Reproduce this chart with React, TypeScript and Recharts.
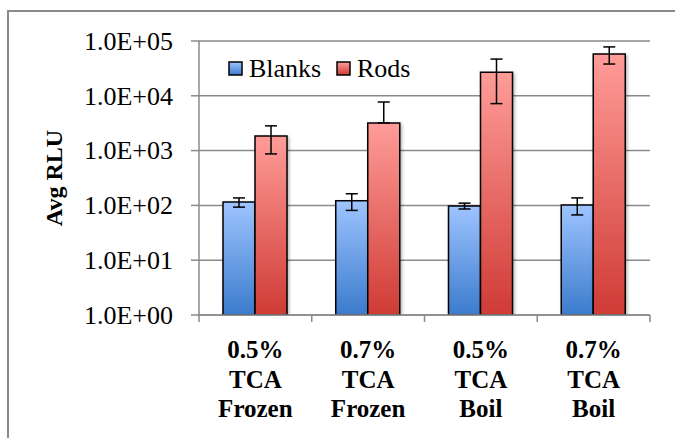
import React from 'react';
import { BarChart, Bar, XAxis, YAxis, CartesianGrid, ErrorBar } from 'recharts';

// ---- data ----
const categoryLines: string[][] = [
  ['0.5%', 'TCA', 'Frozen'],
  ['0.7%', 'TCA', 'Frozen'],
  ['0.5%', 'TCA', 'Boil'],
  ['0.7%', 'TCA', 'Boil'],
];
const seriesNames = ['Blanks', 'Rods'];
const blanksValues = [115, 122, 98, 102];
const blanksErrors = [22, 41, 12, 35];
const rodsValues = [1850, 3200, 27000, 58000];
const rodsErrors = [980, 4500, 19800, 20000];
const yTickValues = [1, 10, 100, 1000, 10000, 100000];
const yTickLabels = ['1.0E+00', '1.0E+01', '1.0E+02', '1.0E+03', '1.0E+04', '1.0E+05'];
const yAxisTitle = 'Avg RLU';

// error below zero cannot be shown on a log axis: only the upper half is drawn
const errPair = (v: number, e: number) => [e >= v ? 0 : e, e];

const data = categoryLines.map((lines, i) => ({
  name: lines.join(' '),
  blanks: blanksValues[i],
  blanksErr: errPair(blanksValues[i], blanksErrors[i]),
  rods: rodsValues[i],
  rodsErr: errPair(rodsValues[i], rodsErrors[i]),
}));

const FONT = '"Liberation Serif", "Times New Roman", serif';
const GRAY = '#8a8a8a';

const XTick = (props: any) => {
  const { x, y, payload, index } = props;
  const lines = categoryLines[index] || String(payload.value).split(' ');
  const off = payload && typeof payload.offset === 'number' ? payload.offset : 0;
  return (
    <g>
      {off > 0 && <line x1={x - off} x2={x - off} y1={y} y2={y + 7} stroke={GRAY} strokeWidth={1.5} />}
      {off > 0 && index === categoryLines.length - 1 && (
        <line x1={x + off} x2={x + off} y1={y} y2={y + 7} stroke={GRAY} strokeWidth={1.5} />
      )}
      {lines.map((t: string, k: number) => (
        <text
          key={k}
          x={x}
          y={y + 43 + k * 29.5}
          textAnchor="middle"
          fontFamily={FONT}
          fontWeight="bold"
          fontSize={25}
          fill="#000"
        >
          {t}
        </text>
      ))}
    </g>
  );
};

const YTick = (props: any) => {
  const { x, y, payload } = props;
  const idx = yTickValues.indexOf(payload.value);
  return (
    <text x={x} y={y} dy="0.34em" textAnchor="end" fontFamily={FONT} fontSize={26} fill="#000">
      {idx >= 0 ? yTickLabels[idx] : String(payload.value)}
    </text>
  );
};

const YTitle = (props: any) => {
  const vb = props.viewBox || { x: 0, y: 41, width: 199, height: 274 };
  const cx = vb.x + 62;
  const cy = vb.y + vb.height / 2;
  return (
    <text
      x={cx}
      y={cy}
      textAnchor="middle"
      transform={`rotate(-90, ${cx}, ${cy})`}
      fontFamily={FONT}
      fontWeight="bold"
      fontSize={24}
      fill="#000"
    >
      {yAxisTitle}
    </text>
  );
};

export default function App() {
  return (
    <div
      style={{
        position: 'fixed',
        left: 0,
        top: 0,
        width: 675,
        height: 438,
        overflow: 'hidden',
        background: '#fff',
      }}
    >
      <div
        style={{
          position: 'absolute',
          left: 7,
          top: 10,
          width: 800,
          height: 600,
          border: `2px solid ${GRAY}`,
          boxSizing: 'border-box',
        }}
      />
      <div style={{ position: 'absolute', left: 0, top: 0 }}>
        <BarChart
          width={675}
          height={438}
          data={data}
          margin={{ top: 41, right: 25, bottom: 0, left: 0 }}
          barGap={0}
          barSize={32}
        >
          <defs>
            <linearGradient id="gBlue" x1="0" y1="0" x2="0" y2="1">
              <stop offset="0%" stopColor="#9ec4ff" />
              <stop offset="100%" stopColor="#3b7bcc" />
            </linearGradient>
            <linearGradient id="gRed" x1="0" y1="0" x2="0" y2="1">
              <stop offset="0%" stopColor="#ff9c98" />
              <stop offset="100%" stopColor="#cf3b35" />
            </linearGradient>
            <filter id="shadow" x="-20%" y="-20%" width="140%" height="140%">
              <feDropShadow dx="1.5" dy="1.5" stdDeviation="1.5" floodColor="#000" floodOpacity="0.3" />
            </filter>
          </defs>
          <CartesianGrid vertical={false} stroke={GRAY} strokeWidth={1.5} />
          <XAxis
            dataKey="name"
            height={123}
            axisLine={{ stroke: GRAY, strokeWidth: 1.5 }}
            tickLine={false}
            tickSize={0}
            tickMargin={0}
            interval={0}
            tick={<XTick />}
          />
          <YAxis
            scale="log"
            type="number"
            domain={[1, 100000]}
            ticks={yTickValues}
            allowDataOverflow
            width={199}
            axisLine={{ stroke: GRAY, strokeWidth: 1.5 }}
            tickLine={{ stroke: GRAY, strokeWidth: 1.5 }}
            tickSize={8}
            tickMargin={18}
            interval={0}
            tick={<YTick />}
            label={<YTitle />}
          />
          <Bar
            dataKey="blanks"
            name={seriesNames[0]}
            fill="url(#gBlue)"
            stroke="#000"
            strokeWidth={1.5}
            isAnimationActive={false}
            style={{ filter: 'url(#shadow)' }}
          >
            <ErrorBar dataKey="blanksErr" width={6} stroke="#000" strokeWidth={1.5} direction="y" />
          </Bar>
          <Bar
            dataKey="rods"
            name={seriesNames[1]}
            fill="url(#gRed)"
            stroke="#000"
            strokeWidth={1.5}
            isAnimationActive={false}
            style={{ filter: 'url(#shadow)' }}
          >
            <ErrorBar dataKey="rodsErr" width={6} stroke="#000" strokeWidth={1.5} direction="y" />
          </Bar>
        </BarChart>
      </div>
      <svg
        width={675}
        height={438}
        style={{ position: 'absolute', left: 0, top: 0, pointerEvents: 'none' }}
      >
        <defs>
          <linearGradient id="lgBlue" x1="0" y1="0" x2="0" y2="1">
            <stop offset="0%" stopColor="#9ec4ff" />
            <stop offset="100%" stopColor="#3b7bcc" />
          </linearGradient>
          <linearGradient id="lgRed" x1="0" y1="0" x2="0" y2="1">
            <stop offset="0%" stopColor="#ff9c98" />
            <stop offset="100%" stopColor="#cf3b35" />
          </linearGradient>
        </defs>
        {seriesNames.map((n, i) => {
          const bx = i === 0 ? 229 : 337;
          return (
            <g key={n}>
              <rect x={bx} y={62} width={13} height={13} fill={i === 0 ? 'url(#lgBlue)' : 'url(#lgRed)'} stroke="#000" strokeWidth={1.5} />
              <text x={bx + 20} y={77} fontFamily={FONT} fontSize={26} fill="#000">
                {n}
              </text>
            </g>
          );
        })}
      </svg>
    </div>
  );
}
